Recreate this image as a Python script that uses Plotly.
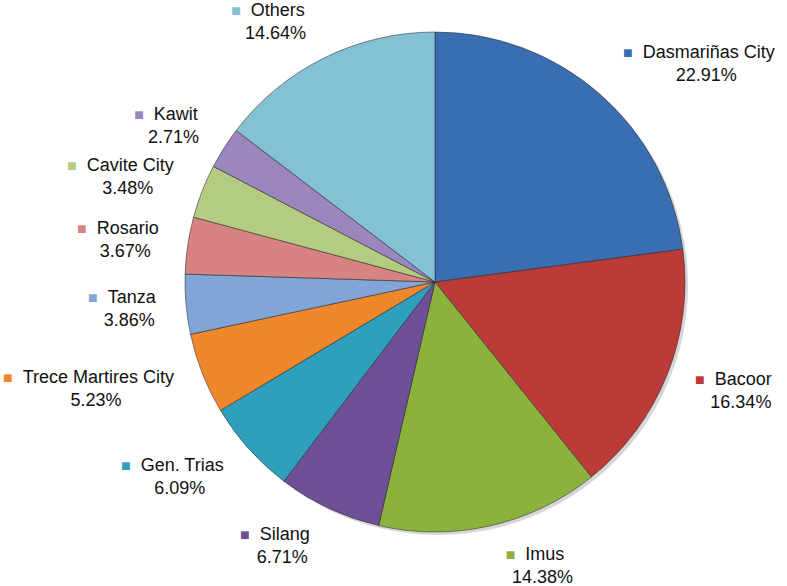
import math
import plotly.graph_objects as go

# ---- data ----
municipalities = ["Dasmariñas City", "Bacoor", "Imus", "Silang", "Gen. Trias",
                  "Trece Martires City", "Tanza", "Rosario", "Cavite City", "Kawit", "Others"]
shares = [22.91, 16.34, 14.38, 6.71, 6.09, 5.23, 3.86, 3.67, 3.48, 2.71, 14.64]
slice_colors = ["#3A6EB2", "#BA3B38", "#8CB23E", "#6E5096", "#2EA0BE", "#EF872D",
                "#82A5D7", "#D68382", "#B4CC82", "#9B87BE", "#84C1D5"]

# ---- layout constants (pixels) ----
W, H = 787, 586
CX, CY, R = 435, 282, 250
FONT = 18
LABEL_R = 268
GAP = 12
BOX_H = 46
MARK = 18  # marker + gap width
SHADOW = 3

ARIAL = {" ": 278, ".": 278, "%": 889, "A": 667, "B": 667, "C": 722, "D": 722, "G": 778,
         "I": 278, "K": 667, "M": 833, "O": 778, "R": 722, "S": 667, "T": 611,
         "a": 556, "c": 500, "e": 556, "g": 556, "h": 556, "i": 222, "l": 222, "m": 833,
         "n": 556, "ñ": 556, "o": 556, "r": 333, "s": 500, "t": 278, "u": 556, "v": 500,
         "w": 722, "y": 500, "z": 500}


def text_width(s):
    return sum(ARIAL.get(ch, 556) for ch in s) / 1000 * FONT


def dom(cx, cy):
    return dict(x=[(cx - R) / W, (cx + R) / W], y=[1 - (cy + R) / H, 1 - (cy - R) / H])


fig = go.Figure()
# soft drop shadow
fig.add_trace(go.Pie(
    labels=municipalities, values=shares, sort=False, direction="clockwise", rotation=0,
    marker=dict(colors=["rgba(0,0,0,0.16)"] * len(shares), line=dict(width=0)),
    textinfo="none", hoverinfo="skip", showlegend=False,
    domain=dom(CX + SHADOW, CY + SHADOW),
))
fig.add_trace(go.Pie(
    labels=municipalities, values=shares, sort=False, direction="clockwise", rotation=0,
    marker=dict(colors=slice_colors, line=dict(color="rgba(40,40,40,0.55)", width=1)),
    textinfo="none", hoverinfo="label+percent", showlegend=False,
    domain=dom(CX, CY),
))

total = sum(shares)
cum = 0.0
annotations = []
for name, v, c in zip(municipalities, shares, slice_colors):
    mid = (cum + v / 2) / total * 2 * math.pi
    cum += v
    s, co = math.sin(mid), math.cos(mid)
    px = CX + LABEL_R * s
    py = CY - LABEL_R * co
    tw = text_width(name)
    half = tw / 2 + (MARK if s > 0 else 0)
    sgn = 1 if s > 0 else -1
    bx = px + sgn * (half + GAP) - MARK / 2   # centre of marker + name line
    by = py + (BOX_H / 2) * (-co)
    txt = (f"<span style='color:{c};font-size:16px'>■</span>\u00a0\u00a0{name}"
           f"<br>\u00a0\u00a0\u00a0{v:.2f}%")
    annotations.append(dict(x=bx / W, y=1 - by / H, xref="paper", yref="paper",
                            text=txt, showarrow=False, xanchor="center", yanchor="middle",
                            align="center",
                            font=dict(family="Liberation Sans, Arial, sans-serif", size=FONT,
                                      color="#111111")))

fig.update_layout(
    width=W, height=H, margin=dict(l=0, r=0, t=0, b=0),
    paper_bgcolor="white", plot_bgcolor="white",
    annotations=annotations,
)

fig.write_html("out.html", config={"displayModeBar": False},
               post_script="document.body.style.margin='0';")
